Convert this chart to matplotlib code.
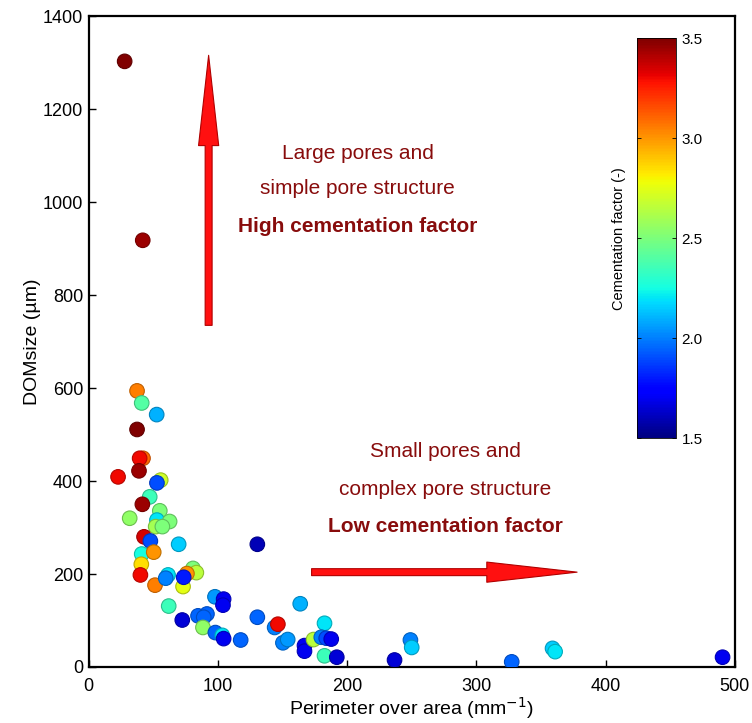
import matplotlib
matplotlib.use("Agg")
import matplotlib.pyplot as plt
import numpy as np
from matplotlib import colors as mcolors

# perimeter over area (mm^-1), DOMsize (um), cementation factor (-)
perim = [27.8, 41.8, 37.4, 41.0, 52.6, 37.4, 42.0, 39.4, 38.9, 22.7,
         55.7, 52.8, 47.2, 41.5, 55.0, 31.7, 52.8, 62.6, 51.8, 57.0,
         42.8, 47.7, 69.6, 41.0, 50.3, 40.7, 40.0, 51.3, 61.4, 59.6,
         80.7, 83.3, 76.0, 73.0, 73.5, 61.9, 97.7, 104.4, 103.9, 72.4,
         84.6, 91.5, 89.0, 88.4, 98.0, 103.4, 104.4, 117.6, 130.5, 130.5,
         163.7, 143.9, 146.4, 182.5, 150.3, 154.0, 167.0, 167.0, 174.0, 180.0,
         183.8, 187.7, 182.5, 192.0, 236.7, 249.0, 250.0, 327.4, 359.0, 361.0,
         490.6]
domsize = [1303, 918, 594, 568, 543, 511, 449, 449, 422, 409,
           402, 396, 366, 350, 336, 320, 316, 313, 302, 302,
           280, 271, 264, 243, 247, 221, 198, 176, 198, 191,
           212, 203, 201, 173, 193, 131, 151, 146, 133, 101,
           110, 114, 107, 85, 74, 68, 61, 58, 264, 107,
           136, 85, 92, 94, 52, 59, 46, 34, 59, 64,
           62, 60, 24, 21, 15, 58, 42, 11, 40, 33,
           21]
cem = [3.5, 3.45, 3.05, 2.4, 2.1, 3.5, 3.1, 3.3, 3.45, 3.3,
       2.7, 1.9, 2.35, 3.45, 2.5, 2.55, 2.2, 2.5, 2.6, 2.5,
       3.35, 1.9, 2.15, 2.25, 3.0, 2.85, 3.3, 3.05, 2.2, 2.0,
       2.5, 2.65, 3.0, 2.75, 1.8, 2.35, 2.05, 1.7, 1.7, 1.65,
       1.95, 1.95, 1.95, 2.55, 1.95, 2.2, 1.7, 1.95, 1.6, 1.95,
       2.1, 2.0, 3.3, 2.2, 2.0, 2.05, 1.7, 1.7, 2.65, 2.0,
       1.9, 1.7, 2.35, 1.65, 1.65, 2.0, 2.15, 1.95, 2.15, 2.2,
       1.7]

cbar_ticks = [1.5, 2.0, 2.5, 3.0, 3.5]
text_red = "#880c0c"

plt.rcParams["font.family"] = ["Liberation Sans", "DejaVu Sans"]

fig = plt.figure(figsize=(7.52, 7.23), dpi=100)
ax = fig.add_axes([0.118, 0.0775, 0.859, 0.9])

norm = mcolors.Normalize(vmin=1.5, vmax=3.5)
cmap = plt.get_cmap("jet")
face = cmap(norm(np.array(cem)))
edge = face.copy()
edge[:, :3] *= 0.75
sc = ax.scatter(perim, domsize, c=cem, cmap=cmap, norm=norm, s=110,
                edgecolors=edge, linewidths=0.8, zorder=3)

ax.set_xlim(0, 500)
ax.set_ylim(0, 1400)
ax.set_xticks(np.arange(0, 501, 100))
ax.set_yticks(np.arange(0, 1401, 200))
ax.tick_params(direction="in", length=5, width=1, labelsize=13)
ax.tick_params(axis="x", pad=8)
ax.tick_params(axis="y", pad=4)
for sp in ax.spines.values():
    sp.set_linewidth(1.6)
ax.set_xlabel("Perimeter over area (mm$^{-1}$)", fontsize=14, labelpad=0)
ax.set_ylabel("DOMsize (\u00b5m)", fontsize=14, labelpad=1)

# direction arrows
arrow_kw = dict(arrowstyle="simple,head_length=6.5,head_width=1.45,tail_width=0.5",
                mutation_scale=10, facecolor="#ff1010", edgecolor="#b00000",
                linewidth=0.8, shrinkA=0, shrinkB=0)
ax.annotate("", xy=(92.8, 1316), xytext=(92.8, 735), arrowprops=arrow_kw, zorder=2)
ax.annotate("", xy=(378, 204), xytext=(172.5, 204), arrowprops=arrow_kw, zorder=2)

ax.text(208, 1105, "Large pores and", ha="center", va="center", fontsize=15, color=text_red)
ax.text(208, 1030, "simple pore structure", ha="center", va="center", fontsize=15, color=text_red)
ax.text(208, 948, "High cementation factor", ha="center", va="center", fontsize=15,
        color=text_red, fontweight="bold")
ax.text(276, 464, "Small pores and", ha="center", va="center", fontsize=15, color=text_red)
ax.text(276, 381, "complex pore structure", ha="center", va="center", fontsize=15, color=text_red)
ax.text(276, 303, "Low cementation factor", ha="center", va="center", fontsize=15,
        color=text_red, fontweight="bold")

# colorbar inside the plot area
cax = fig.add_axes([0.847, 0.394, 0.052, 0.553])
cb = fig.colorbar(sc, cax=cax, ticks=cbar_ticks)
cb.ax.set_yticklabels([f"{t:.1f}" for t in cbar_ticks])
cb.ax.tick_params(direction="in", length=3, width=0.6, labelsize=11, pad=4,
                  left=True, right=True)
cb.outline.set_linewidth(0.6)
cb.ax.yaxis.set_label_position("left")
cb.set_label("Cementation factor (-)", fontsize=10.5, labelpad=8)

fig.savefig("out.png", dpi=100)
